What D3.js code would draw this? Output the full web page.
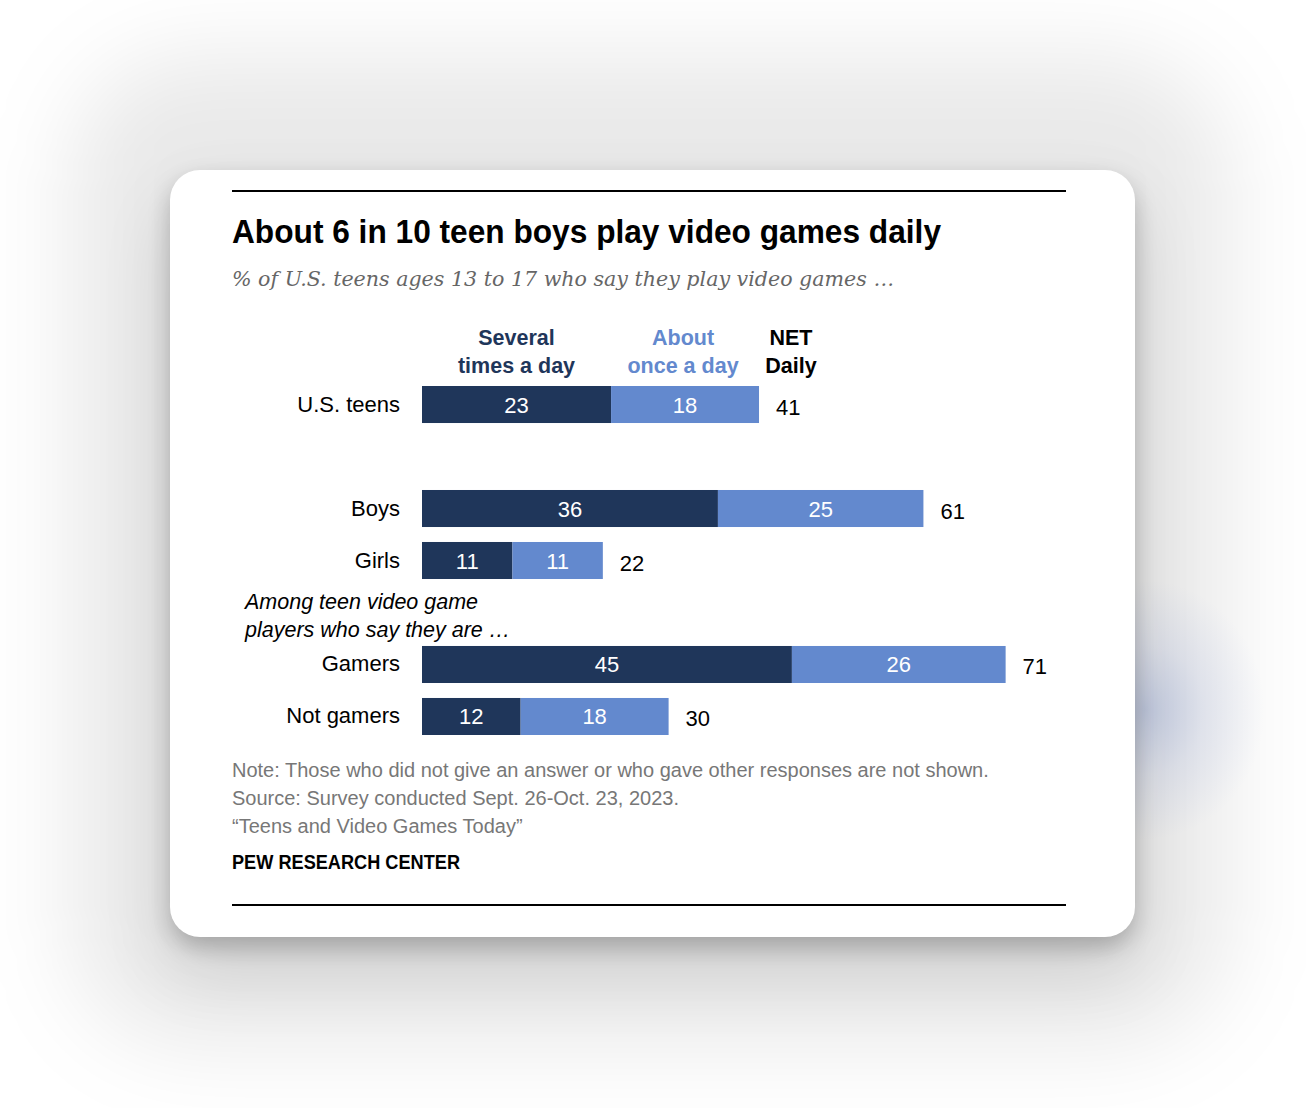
<!DOCTYPE html>
<html>
<head>
<meta charset="utf-8">
<script src="https://cdn.jsdelivr.net/npm/d3@7"></script>
<style>
  html, body { margin: 0; padding: 0; background: #ffffff; width: 1306px; height: 1108px; overflow: hidden; }
  #wash { position: absolute; left: 70px; top: 55px; width: 1160px; height: 990px; border-radius: 120px;
          background: rgba(0,0,0,0.085); filter: blur(45px); }
  #glow { position: absolute; left: 1000px; top: 560px; width: 300px; height: 300px;
          background: radial-gradient(ellipse 120px 130px at 145px 150px, rgba(110,135,200,0.32) 0%, rgba(130,150,210,0.14) 50%, rgba(255,255,255,0) 100%); }
  #card { position: absolute; left: 170px; top: 170px; width: 965px; height: 767px; background: #fff;
          border-radius: 30px;
          box-shadow: 0 10px 22px rgba(0,0,0,0.22), 0 35px 70px rgba(0,0,0,0.12); }
  svg { position: absolute; left: 0; top: 0; }
</style>
</head>
<body>
<div id="wash"></div>
<div id="glow"></div>
<div id="card"></div>
<svg id="chart" width="1306" height="1108"></svg>
<script>
// ---- Data ----
const categories = ["U.S. teens", "Boys", "Girls", "Gamers", "Not gamers"];
const severalTimesADay = [23, 36, 11, 45, 12];
const aboutOnceADay = [18, 25, 11, 26, 18];
const netDaily = [41, 61, 22, 71, 30];
const rowSlots = ["U.S. teens", "gap1", "Boys", "Girls", "gap2", "Gamers", "Not gamers"];
const seriesNames = [["Several", "times a day"], ["About", "once a day"], ["NET", "Daily"]];

const title = "About 6 in 10 teen boys play video games daily";
const subtitle = "% of U.S. teens ages 13 to 17 who say they play video games …";
const groupNote = ["Among teen video game", "players who say they are …"];
const notes = [
  "Note: Those who did not give an answer or who gave other responses are not shown.",
  "Source: Survey conducted Sept. 26-Oct. 23, 2023.",
  "\u201CTeens and Video Games Today\u201D"
];
const brand = "PEW RESEARCH CENTER";

const dark = "#1F365A", light = "#6389CE";
const sans = "'Liberation Sans', Arial, sans-serif";

const svg = d3.select("#chart");

// rules
svg.append("line").attr("x1", 232).attr("x2", 1066).attr("y1", 191).attr("y2", 191)
   .attr("stroke", "#000").attr("stroke-width", 2);
svg.append("line").attr("x1", 232).attr("x2", 1066).attr("y1", 905).attr("y2", 905)
   .attr("stroke", "#000").attr("stroke-width", 2);

// title & subtitle (condensed look via textLength)
svg.append("text").attr("x", 232).attr("y", 243).text(title)
   .attr("font-family", sans).attr("font-weight", "bold").attr("font-size", 33).attr("fill", "#000")
   .attr("textLength", 709).attr("lengthAdjust", "spacingAndGlyphs");
svg.append("text").attr("x", 232).attr("y", 286).text(subtitle)
   .attr("font-family", "'DejaVu Serif', Georgia, serif").attr("font-style", "italic")
   .attr("font-size", 21).attr("fill", "#666")
   .attr("textLength", 662).attr("lengthAdjust", "spacingAndGlyphs");

// scales
const x = d3.scaleLinear().domain([0, 100]).range([422, 1244]);
const y = d3.scaleBand().domain(rowSlots).range([386, 735]).paddingInner(0.288).paddingOuter(0);

const rows = categories.map((c, i) => ({ cat: c, a: severalTimesADay[i], b: aboutOnceADay[i], net: netDaily[i] }));

const g = svg.append("g");
g.selectAll("rect.a").data(rows).join("rect").attr("class", "a")
  .attr("x", x(0)).attr("y", d => y(d.cat))
  .attr("width", d => x(d.a) - x(0)).attr("height", y.bandwidth()).attr("fill", dark);
g.selectAll("rect.b").data(rows).join("rect").attr("class", "b")
  .attr("x", d => x(d.a)).attr("y", d => y(d.cat))
  .attr("width", d => x(d.a + d.b) - x(d.a)).attr("height", y.bandwidth()).attr("fill", light);

const mid = d => y(d.cat) + y.bandwidth() / 2;
g.selectAll("text.va").data(rows).join("text").attr("class", "va")
  .attr("x", d => (x(0) + x(d.a)) / 2).attr("y", d => mid(d) + 8)
  .attr("text-anchor", "middle").attr("fill", "#fff").attr("font-family", sans).attr("font-size", 22)
  .text(d => d.a);
g.selectAll("text.vb").data(rows).join("text").attr("class", "vb")
  .attr("x", d => (x(d.a) + x(d.a + d.b)) / 2).attr("y", d => mid(d) + 8)
  .attr("text-anchor", "middle").attr("fill", "#fff").attr("font-family", sans).attr("font-size", 22)
  .text(d => d.b);
g.selectAll("text.net").data(rows).join("text").attr("class", "net")
  .attr("x", d => x(d.a + d.b) + 17).attr("y", d => mid(d) + 10)
  .attr("fill", "#000").attr("font-family", sans).attr("font-size", 22)
  .text(d => d.net);

g.selectAll("text.cat").data(rows).join("text").attr("class", "cat")
  .attr("x", 400).attr("y", d => mid(d) + 7)
  .attr("text-anchor", "end").attr("fill", "#000").attr("font-family", sans).attr("font-size", 22)
  .text(d => d.cat);

// column headers
const headerX = [(x(0) + x(severalTimesADay[0])) / 2,
                 (x(severalTimesADay[0]) + x(netDaily[0])) / 2 - 2,
                 791];
const headerColors = [dark, light, "#000"];
seriesNames.forEach((lines, i) => {
  const t = svg.append("text").attr("text-anchor", "middle").attr("font-family", sans)
    .attr("font-weight", "bold").attr("font-size", 21.5).attr("fill", headerColors[i]);
  lines.forEach((ln, j) => t.append("tspan").attr("x", headerX[i]).attr("y", 345 + j * 28).text(ln));
});

// group note
const gn = svg.append("text").attr("font-family", sans).attr("font-style", "italic")
  .attr("font-size", 21.5).attr("fill", "#000");
groupNote.forEach((ln, j) => gn.append("tspan").attr("x", 245).attr("y", 609 + j * 28).text(ln));

// notes
notes.forEach((n, j) => svg.append("text").attr("x", 232).attr("y", 777 + j * 28).text(n)
  .attr("font-family", sans).attr("font-size", 20).attr("fill", "#777"));
svg.append("text").attr("x", 232).attr("y", 869).text(brand)
  .attr("font-family", sans).attr("font-weight", "bold").attr("font-size", 19.5).attr("fill", "#000")
  .attr("textLength", 228).attr("lengthAdjust", "spacingAndGlyphs");
</script>
</body>
</html>
